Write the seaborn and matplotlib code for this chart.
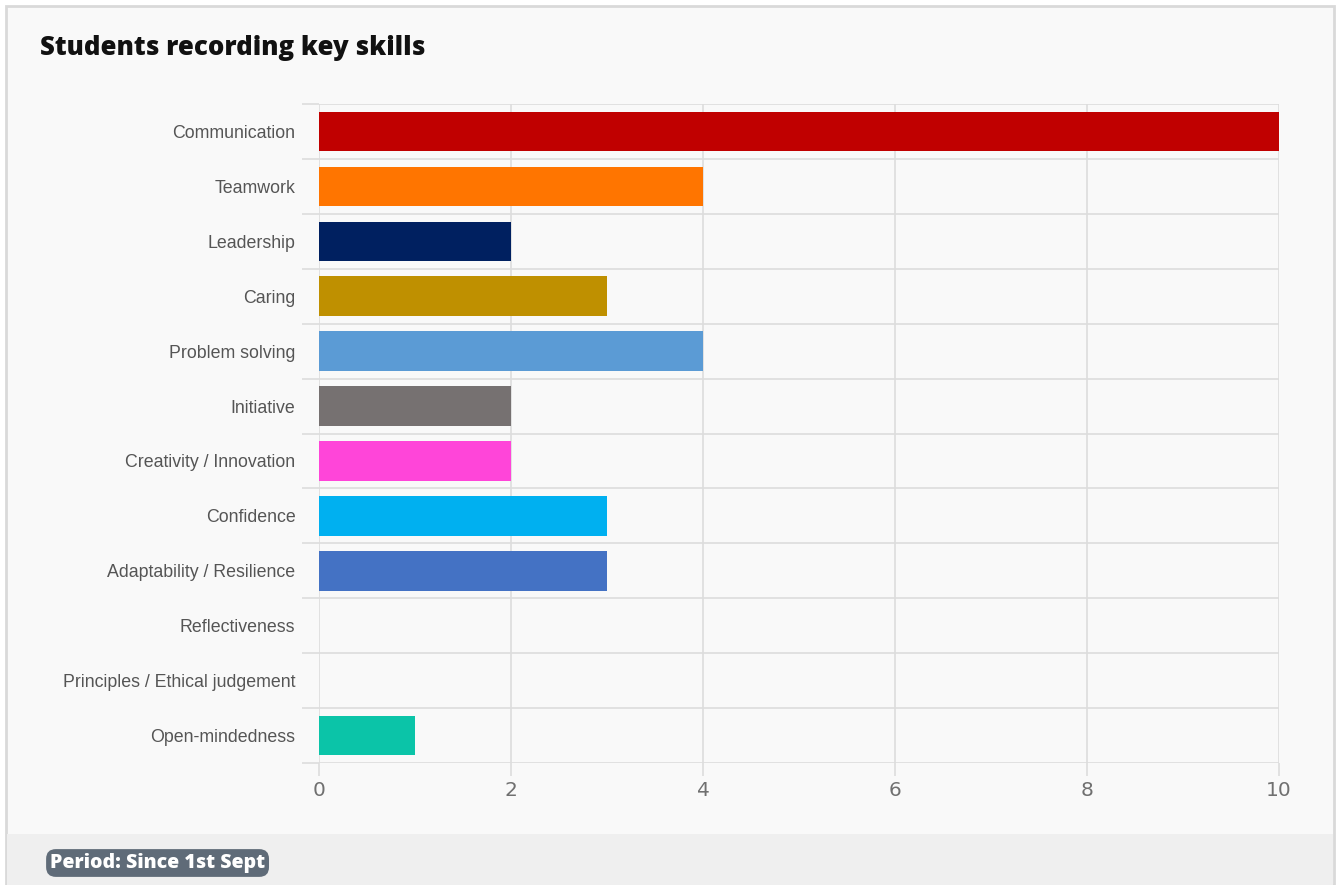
import matplotlib
matplotlib.use("Agg")
import matplotlib.pyplot as plt
import seaborn as sns
import pandas as pd
from matplotlib.patches import Rectangle

categories = ["Communication", "Teamwork", "Leadership", "Caring", "Problem solving",
              "Initiative", "Creativity / Innovation", "Confidence",
              "Adaptability / Resilience", "Reflectiveness",
              "Principles / Ethical judgement", "Open-mindedness"]
values = [10, 4, 2, 3, 4, 2, 2, 3, 3, 0, 0, 1]
colors = ["#c00000", "#ff7500", "#002060", "#bf9000", "#5b9bd5", "#767171",
          "#ff45d9", "#00b0f0", "#4472c4", "#999999", "#999999", "#0bc4a8"]
x_ticks = [0, 2, 4, 6, 8, 10]
title = "Students recording key skills"
footer = "Period: Since 1st Sept"

sns.set_style("white")
W, H = 1336, 885
fig = plt.figure(figsize=(W / 100, H / 100), dpi=100)
fig.patch.set_facecolor("white")

# panel background and border
fig.add_artist(Rectangle((6 / W, 0), (1334 - 6) / W, (885 - 6) / H, transform=fig.transFigure,
                         facecolor="#f9f9f9", edgecolor="#d9d9d9", linewidth=2, zorder=-10))
fig.add_artist(Rectangle((7 / W, 0), (1333 - 7) / W, (885 - 834) / H, transform=fig.transFigure,
                         facecolor="#efefef", edgecolor="none", zorder=-9))

ax = fig.add_axes([319 / W, (H - 763) / H, (1279 - 319) / W, (763 - 104) / H])
ax.set_facecolor("none")

df = pd.DataFrame({"skill": categories, "count": values})
sns.barplot(data=df, x="count", y="skill", hue="skill", palette=colors, order=categories,
            orient="h", width=0.72, legend=False, ax=ax, saturation=1, linewidth=0)

ax.set_xlim(0, 10)
ax.set_ylim(len(categories) - 0.5, -0.5)
ax.set_xticks(x_ticks)
ax.set_xticklabels([str(t) for t in x_ticks], fontsize=14.5, color="#707070", family="DejaVu Sans")
ax.set_yticks(range(len(categories)))
ax.set_yticklabels(categories, fontsize=12.8, color="#555555", family="Liberation Sans")
ax.set_yticks([i - 0.5 for i in range(len(categories) + 1)], minor=True)
ax.tick_params(axis="y", which="major", left=False, length=0, pad=17)
ax.tick_params(axis="y", which="minor", left=True, length=12.5, color="#dddddd", width=1.2)
ax.tick_params(axis="x", which="major", bottom=True, length=9, color="#dddddd", width=1.2, pad=4)
ax.grid(axis="x", which="major", color="#dddddd", linewidth=1.2, zorder=0)
ax.grid(axis="y", which="minor", color="#dddddd", linewidth=1.2, zorder=0)
ax.set_axisbelow(True)
for s in ax.spines.values():
    s.set_visible(False)
ax.set_xlabel("")
ax.set_ylabel("")

fig.text(40 / W, 1 - 48 / H, title, fontsize=18.5, fontweight="heavy", family="Open Sans",
         color="#111111", va="center", ha="left")

fig.text(50 / W, 1 - 863 / H, footer, fontsize=14, fontweight="heavy", family="Open Sans",
         color="white", va="center", ha="left",
         bbox=dict(boxstyle="round,pad=0.2,rounding_size=0.5", facecolor="#5f6b78", edgecolor="none"))

fig.savefig("out.png", dpi=100, facecolor=fig.get_facecolor())
